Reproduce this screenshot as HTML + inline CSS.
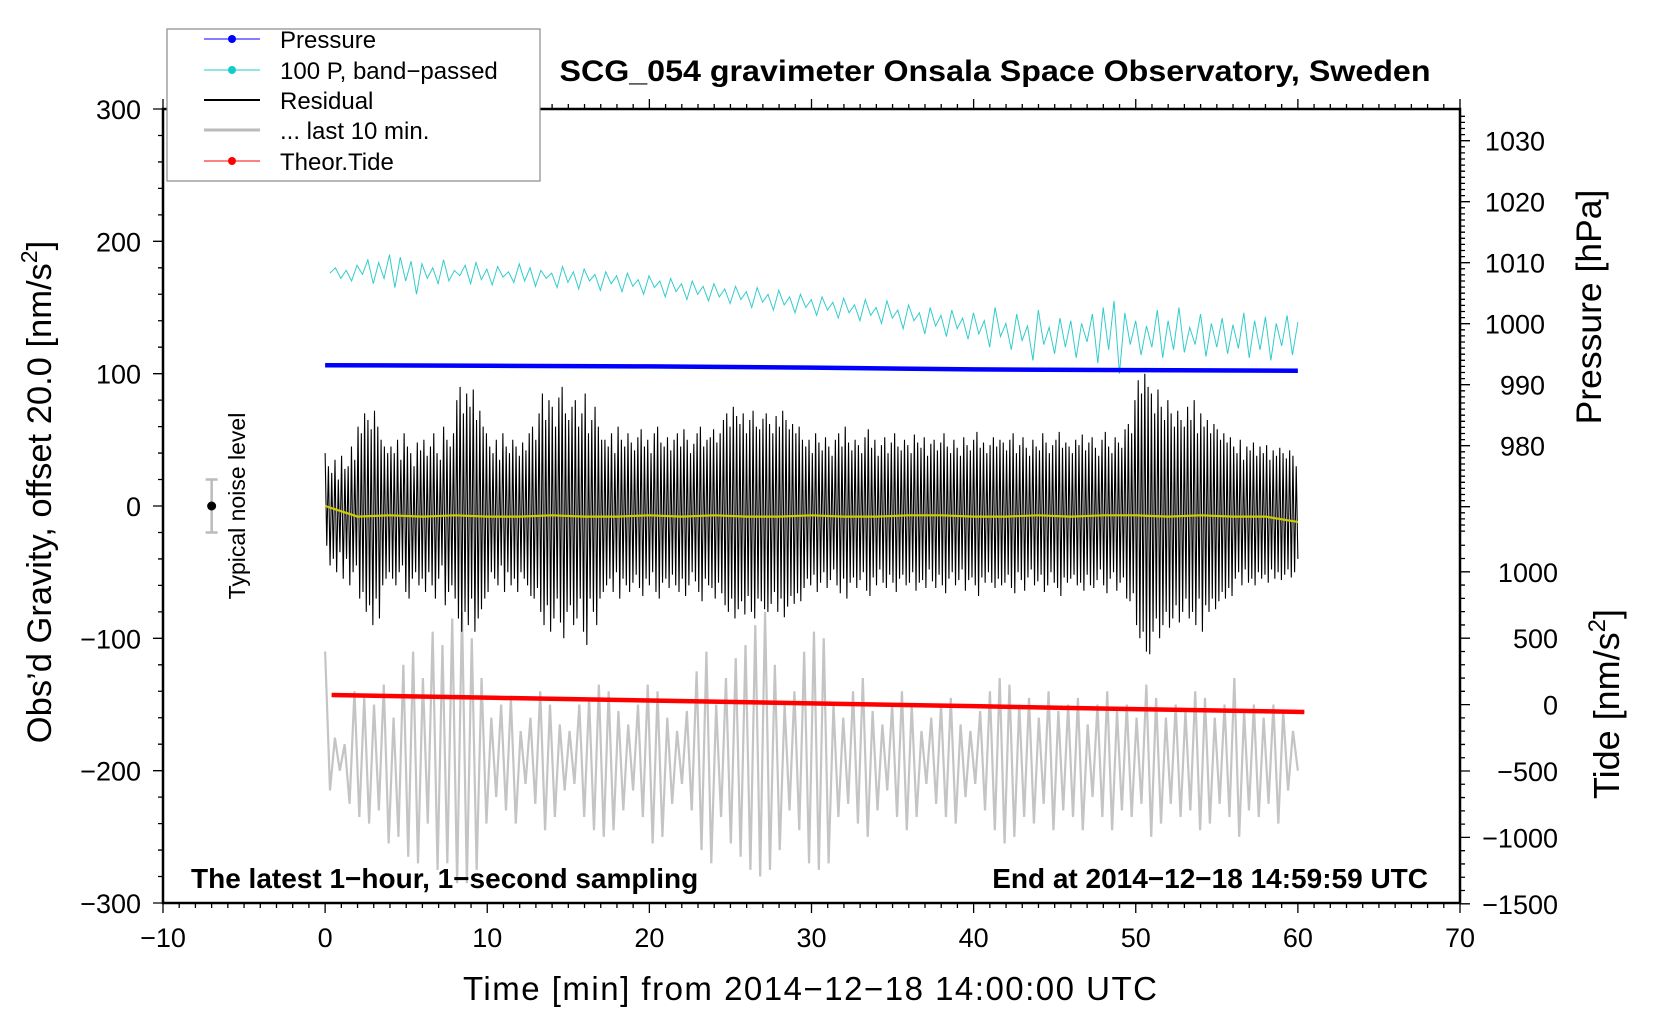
<!DOCTYPE html>
<html><head><meta charset="utf-8"><style>
html,body{margin:0;padding:0;background:#fff;}
svg{display:block;font-family:"Liberation Sans",Arial,sans-serif;}
</style></head><body>
<svg id="chart" width="1660" height="1020" viewBox="0 0 1660 1020">
<g id="ticks"></g>
<g id="series"></g>
<rect x="163" y="109" width="1297" height="794" fill="none" stroke="#000" stroke-width="2.5"/>
<text x="995" y="81" font-size="30" font-weight="bold" text-anchor="middle" textLength="871" lengthAdjust="spacingAndGlyphs">SCG_054 gravimeter Onsala Space Observatory, Sweden</text>
<text x="191" y="888" font-size="28" font-weight="bold">The latest 1−hour, 1−second sampling</text>
<text x="1428" y="888" font-size="28" font-weight="bold" text-anchor="end">End at 2014−12−18 14:59:59 UTC</text>
<text x="810" y="1000" font-size="33" text-anchor="middle" textLength="694">Time [min] from 2014−12−18 14:00:00 UTC</text>
<text transform="translate(51,492) rotate(-90)" font-size="34.5" text-anchor="middle">Obs’d Gravity, offset 20.0 [nm/s<tspan font-size="23" dy="-14">2</tspan><tspan dy="14">]</tspan></text>
<text transform="translate(1601,307) rotate(-90)" font-size="35.5" text-anchor="middle">Pressure [hPa]</text>
<text transform="translate(1619,704) rotate(-90)" font-size="36" text-anchor="middle">Tide [nm/s<tspan font-size="24" dy="-14">2</tspan><tspan dy="14">]</tspan></text>
<g>
<text transform="translate(245,506) rotate(-90)" font-size="23" text-anchor="middle">Typical noise level</text>
</g>
<g>
<rect x="167" y="29" width="373" height="152" fill="#fff" stroke="#888" stroke-width="1.2"/>
<g><line x1="204" y1="39" x2="260" y2="39" stroke="#00f" stroke-width="1"/><circle cx="232" cy="39" r="4" fill="#00f"/><text x="280" y="48" font-size="24">Pressure</text></g>
<g><line x1="204" y1="70" x2="260" y2="70" stroke="#2cc" stroke-width="1"/><circle cx="232" cy="70" r="4" fill="#1cc"/><text x="280" y="79" font-size="24">100 P, band−passed</text></g>
<g><line x1="204" y1="100" x2="260" y2="100" stroke="#000" stroke-width="2"/><text x="280" y="109" font-size="24">Residual</text></g>
<g><line x1="204" y1="130" x2="260" y2="130" stroke="#bbb" stroke-width="3"/><text x="280" y="139" font-size="24">... last 10 min.</text></g>
<g><line x1="204" y1="161" x2="260" y2="161" stroke="#f00" stroke-width="1"/><circle cx="232" cy="161" r="4" fill="#f00"/><text x="280" y="170" font-size="24">Theor.Tide</text></g>
</g>
</svg>
<script>
// ---- data ----
const xTickLabels = [-10,0,10,20,30,40,50,60,70];
const yTickLabels = [300,200,100,0,-100,-200,-300];
const pTickLabels = [1030,1020,1010,1000,990,980];
const tTickLabels = [1000,500,0,-500,-1000,-1500];
const pressureTimes = [0,10,20,30,40,50,60];
const pressureValues = [993.2,993.1,993.0,992.8,992.5,992.4,992.3];
const tideTimes = [0.4,10.4,20.4,30.4,40.4,50.4,60.4];
const tideValues = [72,51,30,8,-13,-35,-56];
const yellowValues = [0,-8,-7,-8,-7,-8,-8,-7,-8,-8,-7,-8,-7,-8,-8,-7,-8,-8,-7,-7,-8,-8,-7,-8,-7,-7,-8,-7,-8,-8,-12];
const cyanValues = [176,180,172,178,170,182,175,186,168,184,172,190,165,188,170,185,160,183,172,180,168,186,170,178,174,182,168,184,171,179,167,181,173,177,169,183,170,180,166,178,172,176,165,181,169,177,164,179,170,175,163,177,168,174,162,176,166,171,160,174,165,170,158,172,162,168,156,170,160,166,155,168,158,164,153,166,156,162,150,165,154,160,148,163,152,158,146,160,150,156,144,158,148,154,142,157,146,152,140,156,144,150,138,155,142,148,134,152,140,146,130,150,136,144,128,148,134,142,126,146,130,140,120,150,128,138,118,145,125,136,110,148,122,135,115,142,120,140,112,138,124,145,108,150,118,155,100,146,122,140,114,136,120,148,112,140,118,150,116,135,122,145,113,138,120,142,115,137,119,146,112,140,118,143,110,138,121,144,114,139];
const residualValues = [40,-30,30,-45,25,-40,35,-50,20,-35,38,-55,28,-40,30,-60,45,-50,35,-45,
60,-70,55,-65,70,-80,65,-75,58,-90,72,-70,60,-85,50,-60,45,-55,40,-50,
45,-55,40,-60,50,-50,35,-45,55,-65,45,-70,40,-55,30,-50,48,-60,42,-55,50,-65,38,-50,45,-60,55,-70,40,-55,35,-45,60,-75,50,-65,45,-60,55,-70,
80,-85,90,-95,70,-80,85,-90,75,-70,88,-95,65,-85,72,-78,60,-70,55,-65,
45,-50,40,-55,50,-60,35,-45,55,-65,45,-50,40,-60,50,-55,45,-65,38,-50,48,-55,42,-60,55,-68,60,-70,50,-62,
70,-80,85,-90,65,-75,80,-95,75,-85,60,-70,82,-88,90,-100,70,-80,65,-75,75,-90,80,-85,60,-70,70,-95,85,-105,55,-70,65,-80,75,-90,60,-70,50,-65,
50,-60,45,-55,55,-65,40,-50,60,-70,50,-55,45,-60,55,-65,48,-58,42,-52,52,-62,58,-68,45,-55,50,-60,40,-50,55,-65,60,-70,48,-58,45,-55,52,-62,42,-52,50,-60,55,-65,45,-55,58,-68,50,-60,40,-50,47,-57,55,-65,60,-72,45,-55,50,-60,52,-62,58,-70,48,-58,55,-66,
65,-75,70,-80,60,-70,75,-85,68,-78,62,-72,70,-82,55,-68,65,-80,72,-85,60,-70,58,-72,66,-78,70,-80,62,-74,55,-65,68,-80,60,-70,72,-84,65,-76,58,-68,62,-74,55,-66,60,-72,50,-62,
45,-55,50,-60,40,-52,55,-65,48,-58,42,-50,52,-62,45,-56,38,-48,50,-60,55,-66,45,-55,60,-70,48,-58,42,-54,50,-62,46,-56,40,-50,52,-64,58,-68,
44,-54,50,-60,38,-48,46,-58,52,-62,40,-52,48,-58,55,-65,45,-55,42,-52,50,-60,46,-58,40,-50,54,-64,48,-58,44,-56,52,-62,38,-48,47,-57,50,-62,
42,-52,48,-60,55,-66,45,-55,40,-50,50,-60,44,-56,38,-48,52,-64,46,-56,42,-54,50,-60,56,-68,44,-54,48,-58,40,-50,46,-58,52,-62,45,-55,50,-60,
48,-58,42,-52,50,-62,55,-66,40,-50,46,-56,52,-64,44,-54,38,-48,50,-60,45,-57,42,-52,55,-65,48,-60,40,-50,46,-58,50,-62,56,-68,44,-54,48,-58,
45,-55,40,-52,50,-60,46,-58,54,-64,42,-52,48,-60,52,-62,44,-56,38,-48,50,-60,56,-66,45,-55,40,-50,52,-64,48,-58,44,-54,58,-70,62,-72,55,-66,
80,-90,95,-100,85,-95,100,-110,90,-112,85,-95,70,-85,88,-100,75,-90,65,-80,80,-92,70,-85,60,-75,72,-88,65,-80,
60,-70,75,-85,65,-80,80,-90,55,-70,70,-95,60,-75,65,-80,55,-70,62,-78,58,-72,50,-65,55,-70,48,-62,52,-68,
45,-55,40,-50,50,-60,35,-48,45,-58,42,-55,48,-60,38,-50,45,-55,40,-52,46,-58,35,-48,42,-55,38,-50,44,-56,40,-52,36,-48,42,-54,38,-50,30,-40];
const grayValues = [-110,-215,-175,-200,-180,-225,-140,-235,-145,-240,-150,-230,-135,-255,-160,-250,-120,-265,-110,-270,
-130,-240,-95,-275,-105,-270,-85,-285,-80,-285,-100,-275,-130,-240,-160,-220,-150,-230,-145,-240,
-170,-210,-160,-225,-140,-245,-150,-235,-165,-215,-170,-210,-150,-235,-145,-245,-135,-250,-140,-245,
-155,-230,-165,-215,-150,-235,-135,-255,-140,-250,-160,-225,-170,-210,-155,-230,-125,-260,-110,-270,
-150,-235,-130,-255,-115,-265,-105,-275,-90,-280,-80,-275,-120,-260,-150,-230,-140,-245,-110,-270,
-95,-275,-100,-270,-150,-235,-160,-225,-140,-240,-130,-250,-155,-230,-165,-215,-150,-235,-140,-245,
-150,-235,-170,-210,-160,-225,-150,-235,-145,-240,-165,-220,-170,-210,-155,-230,-140,-245,-130,-255,
-135,-250,-150,-235,-145,-240,-160,-225,-140,-245,-155,-230,-150,-235,-145,-245,-165,-220,-150,-235,
-140,-245,-155,-230,-150,-235,-160,-225,-135,-250,-145,-240,-160,-225,-150,-235,-155,-230,-140,-245,
-145,-240,-160,-225,-150,-235,-130,-250,-155,-230,-150,-235,-160,-225,-150,-240,-155,-215,-170,-200];
const noiseCenter = 0, noiseHalf = 20, noiseTime = -7;

// ---- axes ----
const X0=163, X1=1460, YT=109, YB=903;
const xs = t => X0 + (t+10)/80*(X1-X0);
const ys = v => YB - (v+300)/600*(YB-YT);
const ps = p => 140.7 + (1030-p)*6.1;
const ts = v => 704.6 - v*66.4/500;
const NS='http://www.w3.org/2000/svg';
const T=document.getElementById('ticks'), S=document.getElementById('series');
function mk(tag,attrs,parent){const e=document.createElementNS(NS,tag);for(const k in attrs)e.setAttribute(k,attrs[k]);parent.appendChild(e);return e;}
let d='';
for(let t=-10;t<=70;t+=1){const L=(t%10===0)?10:5;const x=xs(t);d+=`M${x},${YB}v${L}M${x},${YT}v${-L}`;}
for(let v=-300;v<=300;v+=20){const L=(v%100===0)?10:5;d+=`M${X0},${ys(v)}h${-L}`;}
for(let p=966;p<=1034;p+=1){const L=(p%10===0)?10:5;d+=`M${X1},${ps(p)}h${L}`;}
for(let v=-1500;v<=1200;v+=100){const L=(v%500===0)?10:5;d+=`M${X1},${ts(v)}h${L}`;}
const tk=mk('path',{d:d,stroke:'#000','stroke-width':1.3,fill:'none'},T);


xTickLabels.forEach(t=>{const e=mk('text',{x:xs(t),y:947,'font-size':27,'text-anchor':'middle'},T);e.textContent=String(t).replace('-','−');

});
yTickLabels.forEach(v=>{const e=mk('text',{x:141,y:ys(v)+10,'font-size':27,'text-anchor':'end'},T);e.textContent=String(v).replace('-','−');

});
pTickLabels.forEach(p=>{const e=mk('text',{x:1545,y:ps(p)+10,'font-size':27,'text-anchor':'end'},T);e.textContent=String(p);

});
tTickLabels.forEach(v=>{const e=mk('text',{x:1558,y:ts(v)+10,'font-size':27,'text-anchor':'end'},T);e.textContent=String(v).replace('-','−');

});

function line(times,vals,scale,attrs,name){
  const pts=vals.map((v,i)=>xs(times(i))+','+scale(v).toFixed(1)).join(' ');
  const e=mk('polyline',Object.assign({points:pts,fill:'none'},attrs),S);
  
  
}
line(i=>i*60/(grayValues.length-1),grayValues,ys,{stroke:'#c4c4c4','stroke-width':2.2},'last-10-min-series');
line(i=>0.3+i*59.7/(cyanValues.length-1),cyanValues,ys,{stroke:'#3cc','stroke-width':1},'bandpassed-pressure-series');
line(i=>pressureTimes[i],pressureValues,ps,{stroke:'#00f','stroke-width':4.5},'pressure-series');
line(i=>i*60/(residualValues.length-1),residualValues,ys,{stroke:'#000','stroke-width':1.1},'residual-series');
line(i=>i*60/(yellowValues.length-1),yellowValues,ys,{stroke:'#cc0','stroke-width':2.2},'residual-smoothed-series');
line(i=>tideTimes[i],tideValues,ts,{stroke:'#f00','stroke-width':4.5},'theoretical-tide-series');
const nb=mk('path',{d:`M${xs(noiseTime)-6},${ys(noiseCenter+noiseHalf)}h12M${xs(noiseTime)},${ys(noiseCenter+noiseHalf)}V${ys(noiseCenter-noiseHalf)}M${xs(noiseTime)-6},${ys(noiseCenter-noiseHalf)}h12`,stroke:'#bbb','stroke-width':2.5,fill:'none'},S);


const nd=mk('circle',{cx:xs(noiseTime),cy:ys(noiseCenter),r:4.5,fill:'#000'},S);


</script>
</body></html>
